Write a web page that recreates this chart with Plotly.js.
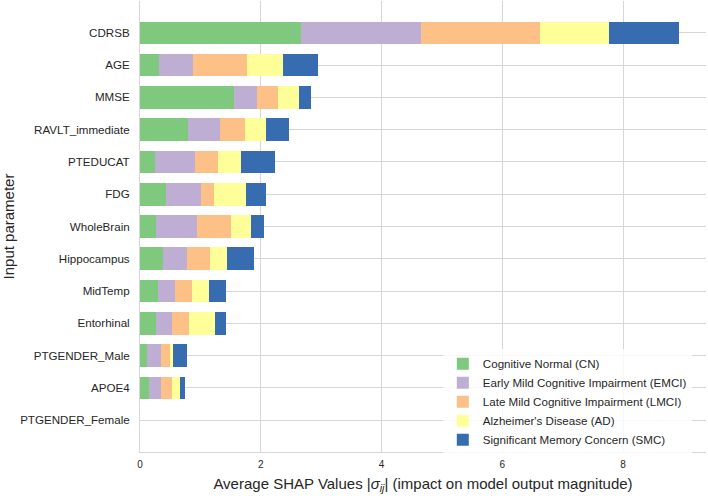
<!DOCTYPE html>
<html>
<head>
<meta charset="utf-8">
<script src="https://cdn.plot.ly/plotly-3.0.1.min.js"></script>
<style>html,body{margin:0;padding:0;background:#fff;}#chart{width:708px;height:496px;}</style>
</head>
<body>
<div id="chart"></div>
<script>
var parameters = ["CDRSB","AGE","MMSE","RAVLT_immediate","PTEDUCAT","FDG","WholeBrain","Hippocampus","MidTemp","Entorhinal","PTGENDER_Male","APOE4","PTGENDER_Female"];
var seriesNames = ["Cognitive Normal (CN)","Early Mild Cognitive Impairment (EMCI)","Late Mild Cognitive Impairment (LMCI)","Alzheimer's Disease (AD)","Significant Memory Concern (SMC)"];
var cnValues   = [2.665,0.310,1.560,0.790,0.255,0.426,0.260,0.380,0.294,0.260,0.122,0.155,0];
var emciValues = [1.985,0.575,0.370,0.527,0.657,0.586,0.685,0.390,0.281,0.277,0.226,0.193,0];
var lmciValues = [1.967,0.890,0.350,0.423,0.382,0.210,0.570,0.390,0.282,0.276,0.145,0.189,0];
var adValues   = [1.150,0.590,0.360,0.350,0.371,0.531,0.315,0.278,0.288,0.431,0.054,0.121,0];
var smcValues  = [1.160,0.585,0.200,0.370,0.565,0.327,0.216,0.442,0.281,0.182,0.223,0.095,0];
var xTickValues = [0,2,4,6,8];

var colors = ["#7fc97f","#beaed4","#fdc086","#ffff99","#386cb0"];
var allValues = [cnValues, emciValues, lmciValues, adValues, smcValues];

var traces = allValues.map(function(vals, i){
  return {
    type: 'bar',
    orientation: 'h',
    name: seriesNames[i],
    y: parameters,
    x: vals,
    width: 0.7,
    marker: {color: colors[i], line: {width: 0}},
    hoverinfo: 'x+name'
  };
});

var totals = parameters.map(function(p, j){
  return allValues.reduce(function(s, arr){ return s + arr[j]; }, 0);
});
var xmax = Math.max.apply(null, totals) * 1.05;
var n = parameters.length;

var layout = {
  width: 708,
  height: 496,
  margin: {l: 140, r: 2, t: 1, b: 44},
  paper_bgcolor: '#ffffff',
  plot_bgcolor: '#ffffff',
  barmode: 'stack',
  font: {family: 'Liberation Sans, Arial, sans-serif', color: '#262626', size: 11},
  showlegend: true,
  legend: {
    x: 0.535, y: 0.228, xanchor: 'left', yanchor: 'top',
    traceorder: 'normal',
    bgcolor: 'rgba(255,255,255,0.8)',
    borderwidth: 0,
    font: {size: 11.6, color: '#262626'}
  },
  xaxis: {
    range: [0, xmax],
    tickvals: xTickValues,
    ticktext: xTickValues.map(String),
    showgrid: true, gridcolor: '#d6d6d6', gridwidth: 1,
    zeroline: false,
    showline: true, linecolor: '#d6d6d6', linewidth: 1,
    ticks: '',
    tickfont: {size: 10, color: '#262626'},
    ticklabelstandoff: 3,
    title: {text: 'Average SHAP Values |<i>σ<sub>ij</sub></i>| (impact on model output magnitude)', font: {size: 15, color: '#262626'}, standoff: 9}
  },
  yaxis: {
    type: 'category',
    categoryorder: 'array',
    categoryarray: parameters,
    range: [n - 1 + 0.985, -0.985],
    showgrid: true, gridcolor: '#d6d6d6', gridwidth: 1,
    zeroline: false,
    showline: true, linecolor: '#d6d6d6', linewidth: 1,
    ticks: '',
    tickfont: {size: 11.6, color: '#262626'},
    ticklabelstandoff: 7,
    title: {text: 'Input parameter', font: {size: 15, color: '#262626'}, standoff: 12}
  }
};

Plotly.newPlot('chart', traces, layout, {displayModeBar: false, staticPlot: true});
</script>
</body>
</html>
